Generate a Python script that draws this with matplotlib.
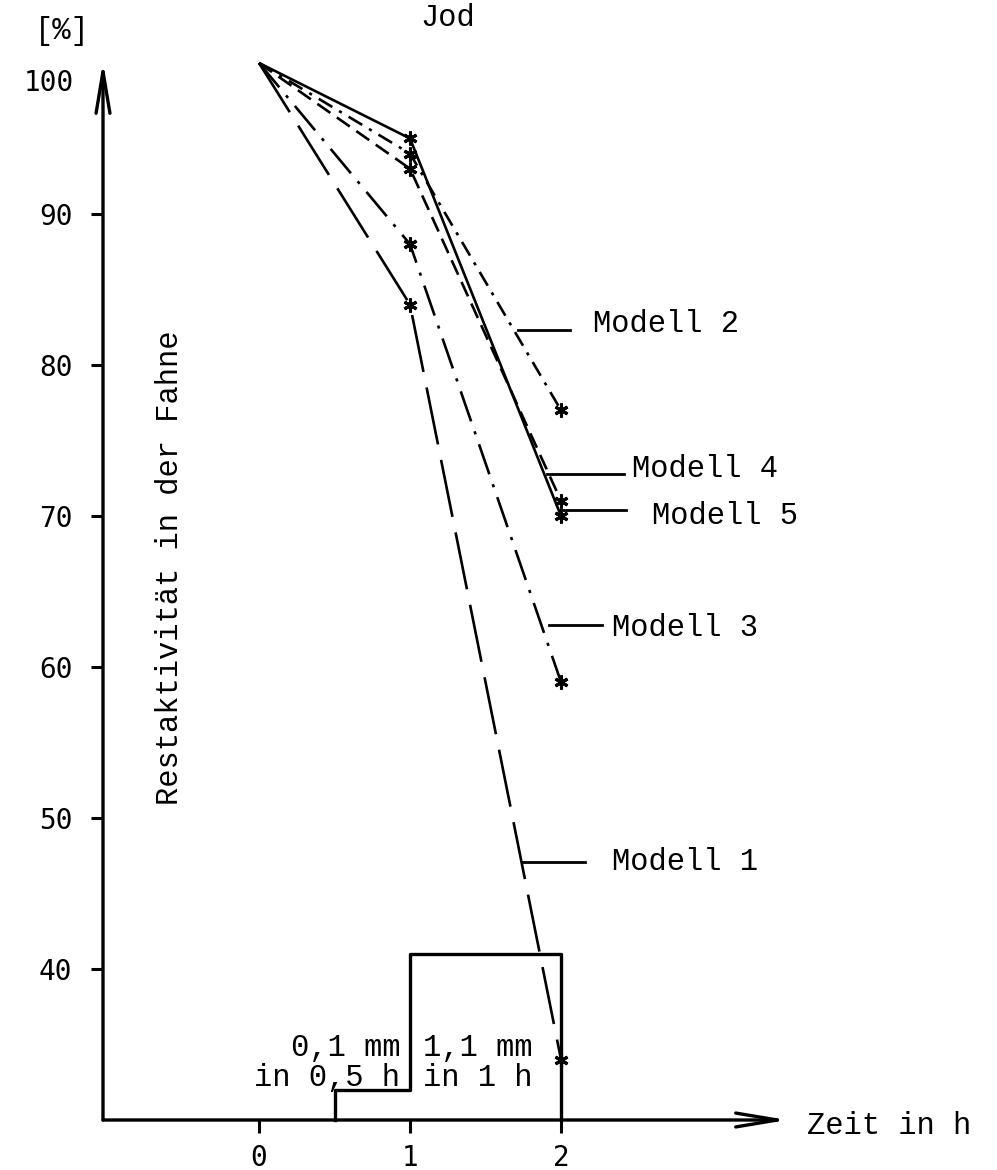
import matplotlib.pyplot as plt

# Restaktivitaet [%] nach 0, 1 und 2 h
zeit = [0, 1, 2]
modell_1 = [100, 84, 34]
modell_2 = [100, 94, 77]
modell_3 = [100, 88, 59]
modell_4 = [100, 93, 71]
modell_5 = [100, 95, 70]

# Schichtdicke (Treppe unten)
schicht_x = [0.5, 0.5, 1, 1, 2, 2]
schicht_y = [30, 32, 32, 41, 41, 30]

x_ticks = [0, 1, 2]
y_ticks = [40, 50, 60, 70, 80, 90]

mono = 'Liberation Mono'
num = 'DejaVu Sans Mono'
fs = 22
tfs = 20

fig = plt.figure(figsize=(9.97, 11.7), dpi=100)
ax = fig.add_axes([103 / 997, 50 / 1170, 894 / 997, 1120 / 1170])
ax.set_xlim(-1.033, 4.887)
ax.set_ylim(30, 104.17)
for s in ax.spines.values():
    s.set_visible(False)

# Achsen mit Pfeilen
arrow = dict(arrowstyle='->,head_length=3.0,head_width=0.5', lw=2.4,
             color='black', shrinkA=0, shrinkB=0)
ax.annotate('', xy=(3.5, 30), xytext=(-1.033, 30), arrowprops=arrow,
            annotation_clip=False)
ax.annotate('', xy=(-1.033, 100.1), xytext=(-1.033, 30), arrowprops=arrow,
            annotation_clip=False)

ax.set_xticks(x_ticks)
ax.set_xticklabels([str(v) for v in x_ticks], family=num, fontsize=tfs)
ax.set_yticks(y_ticks)
ax.set_yticklabels([str(v) for v in y_ticks], family=num, fontsize=tfs)
ax.tick_params(axis='both', direction='out', length=9, width=2.2)
ax.tick_params(axis='x', pad=8)
ax.tick_params(axis='y', pad=13)
ax.text(-1.225, 98.7, '100', ha='right', va='center', fontsize=tfs, family=num)

star = (6, 2, 0)
kw = dict(color='black', lw=1.9, marker=star, markersize=10, mew=2.2,
          markevery=[1, 2], solid_capstyle='butt', dash_capstyle='butt')
ax.plot(zeit, modell_1, dashes=(22, 6), **kw)
ax.plot(zeit, modell_2, dashes=(6, 3, 1.2, 3), **kw)
ax.plot(zeit, modell_3, dashes=(12, 4, 1.2, 4), **kw)
ax.plot(zeit, modell_4, dashes=(6, 3), **kw)
ax.plot(zeit, modell_5, linestyle='-', **kw)

ax.plot(schicht_x, schicht_y, color='black', lw=2.4, clip_on=False)

# Beschriftung der Kurven
labels = [
    ('Modell 2', 1.715, 2.060, 82.3, 2.212, 82.7),
    ('Modell 4', 1.907, 2.417, 72.8, 2.470, 73.1),
    ('Modell 5', 2.000, 2.430, 70.4, 2.603, 70.0),
    ('Modell 3', 1.921, 2.272, 62.8, 2.338, 62.6),
    ('Modell 1', 1.742, 2.159, 47.1, 2.338, 47.1),
]
for name, x0, x1, yl, xt, yt in labels:
    ax.plot([x0, x1], [yl, yl], color='black', lw=2)
    ax.text(xt, yt, name, ha='left', va='center', fontsize=fs, family=mono)

ax.text(0.934, 34.8, '0,1 mm', ha='right', va='center', fontsize=fs, family=mono)
ax.text(0.934, 32.75, 'in 0,5 h', ha='right', va='center', fontsize=fs, family=mono)
ax.text(1.086, 34.8, '1,1 mm', ha='left', va='center', fontsize=fs, family=mono)
ax.text(1.086, 32.75, 'in 1 h', ha='left', va='center', fontsize=fs, family=mono)

ax.text(3.63, 29.6, 'Zeit in h', ha='left', va='center', fontsize=fs, family=mono)
ax.text(-0.59, 66.6, 'Restaktivität in der Fahne', rotation=90, ha='center',
        va='center', fontsize=fs, family=mono)
ax.text(-1.3, 102.1, '[%]', ha='center', va='center', fontsize=fs, family=mono)
ax.text(1.25, 103.0, 'Jod', ha='center', va='center', fontsize=fs, family=mono)

fig.savefig('out.png', dpi=100)
